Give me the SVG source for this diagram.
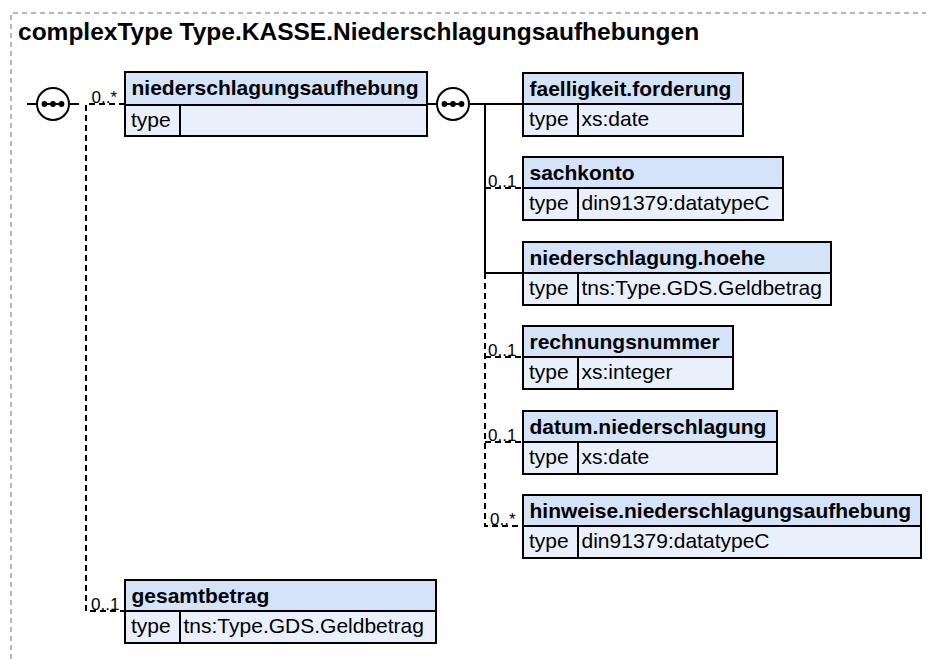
<svg xmlns="http://www.w3.org/2000/svg" width="927" height="659" viewBox="0 0 927 659">
<style>
.frame{fill:none;stroke:#a0a0a0;stroke-width:1.5;stroke-dasharray:5 4}
.title{font-family:"Liberation Sans",Arial,sans-serif;font-weight:bold;font-size:24.5px;fill:#000}
.hdr{fill:#d5e3f8;stroke:#000;stroke-width:2}
.row{fill:#e9f0fc;stroke:#000;stroke-width:2}
.div{stroke:#000;stroke-width:2}
.name{font-family:"Liberation Sans",Arial,sans-serif;font-weight:bold;font-size:21px;fill:#000}
.txt{font-family:"Liberation Sans",Arial,sans-serif;font-size:21px;fill:#000}
.mult{font-family:"Liberation Sans",Arial,sans-serif;font-size:17px;fill:#000}
.solid{fill:none;stroke:#000;stroke-width:2}
.dash{fill:none;stroke:#000;stroke-width:2;stroke-dasharray:6 4}
.seq{fill:#fff;stroke:#000;stroke-width:2}
.dot{fill:#000}
</style>
<defs>
<g id="seqIcon">
<circle class="seq" cx="0" cy="0" r="16"/>
<line x1="-9" y1="0" x2="9" y2="0" stroke="#000" stroke-width="2"/>
<circle class="dot" cx="-8.5" cy="0" r="2.9"/>
<circle class="dot" cx="0" cy="0" r="2.9"/>
<circle class="dot" cx="8.5" cy="0" r="2.9"/>
</g>
</defs>
<path class="frame" d="M11 659 V13 H926"/>
<text class="title" x="18" y="40">complexType Type.KASSE.Niederschlagungsaufhebungen</text>

<g id="connectors">
<path class="solid" d="M27 104 H37"/>
<path class="solid" d="M69 104 H79"/>
<path class="dash" d="M125 104 H86 V611 H125"/>
<path class="solid" d="M427 104 H437"/>
<path class="solid" d="M469 104 H523"/>
<path class="solid" d="M485 104 V273 H523"/>
<path class="dash" d="M485 188 H523"/>
<path class="dash" d="M485 273 V526 H523"/>
<path class="dash" d="M485 357 H523"/>
<path class="dash" d="M485 442 H523"/>
<text class="mult" x="91.5" y="103">0..*</text>
<text class="mult" x="91" y="610">0..1</text>
<text class="mult" x="488" y="187">0..1</text>
<text class="mult" x="488" y="356">0..1</text>
<text class="mult" x="488" y="441">0..1</text>
<text class="mult" x="490" y="525">0..*</text>
</g>

<g id="seq1"><use href="#seqIcon" x="53" y="104"/></g>
<g id="seq2"><use href="#seqIcon" x="453" y="104"/></g>

<g id="niederschlagungsaufhebung">
<rect class="hdr" x="125" y="72" width="302" height="33"/>
<rect class="row" x="125" y="105" width="302" height="31"/>
<line class="div" x1="180" y1="105" x2="180" y2="136"/>
<text class="name" x="131.5" y="95">niederschlagungsaufhebung</text>
<text class="txt" x="131" y="127">type</text>
</g>

<g id="faelligkeit.forderung">
<rect class="hdr" x="523" y="73" width="220" height="31"/>
<rect class="row" x="523" y="104" width="220" height="32"/>
<line class="div" x1="578" y1="104" x2="578" y2="136"/>
<text class="name" x="529.5" y="96">faelligkeit.forderung</text>
<text class="txt" x="529" y="126">type</text>
<text class="txt" x="581.5" y="126">xs:date</text>
</g>

<g id="sachkonto">
<rect class="hdr" x="523" y="157" width="260" height="31"/>
<rect class="row" x="523" y="188" width="260" height="32"/>
<line class="div" x1="578" y1="188" x2="578" y2="220"/>
<text class="name" x="529.5" y="180">sachkonto</text>
<text class="txt" x="529" y="210">type</text>
<text class="txt" x="581.5" y="210">din91379:datatypeC</text>
</g>

<g id="niederschlagung.hoehe">
<rect class="hdr" x="523" y="242" width="308" height="31"/>
<rect class="row" x="523" y="273" width="308" height="32"/>
<line class="div" x1="578" y1="273" x2="578" y2="305"/>
<text class="name" x="529.5" y="265">niederschlagung.hoehe</text>
<text class="txt" x="529" y="295">type</text>
<text class="txt" x="581.5" y="295">tns:Type.GDS.Geldbetrag</text>
</g>

<g id="rechnungsnummer">
<rect class="hdr" x="523" y="326" width="210" height="31"/>
<rect class="row" x="523" y="357" width="210" height="32"/>
<line class="div" x1="578" y1="357" x2="578" y2="389"/>
<text class="name" x="529.5" y="349">rechnungsnummer</text>
<text class="txt" x="529" y="379">type</text>
<text class="txt" x="581.5" y="379">xs:integer</text>
</g>

<g id="datum.niederschlagung">
<rect class="hdr" x="523" y="411" width="254" height="31"/>
<rect class="row" x="523" y="442" width="254" height="32"/>
<line class="div" x1="578" y1="442" x2="578" y2="474"/>
<text class="name" x="529.5" y="434">datum.niederschlagung</text>
<text class="txt" x="529" y="464">type</text>
<text class="txt" x="581.5" y="464">xs:date</text>
</g>

<g id="hinweise.niederschlagungsaufhebung">
<rect class="hdr" x="523" y="495" width="398" height="31"/>
<rect class="row" x="523" y="526" width="398" height="32"/>
<line class="div" x1="578" y1="526" x2="578" y2="558"/>
<text class="name" x="529.5" y="518">hinweise.niederschlagungsaufhebung</text>
<text class="txt" x="529" y="548">type</text>
<text class="txt" x="581.5" y="548">din91379:datatypeC</text>
</g>

<g id="gesamtbetrag">
<rect class="hdr" x="125" y="580" width="311" height="31"/>
<rect class="row" x="125" y="611" width="311" height="32"/>
<line class="div" x1="180" y1="611" x2="180" y2="643"/>
<text class="name" x="131.5" y="603">gesamtbetrag</text>
<text class="txt" x="131" y="633">type</text>
<text class="txt" x="183.5" y="633">tns:Type.GDS.Geldbetrag</text>
</g>
</svg>
